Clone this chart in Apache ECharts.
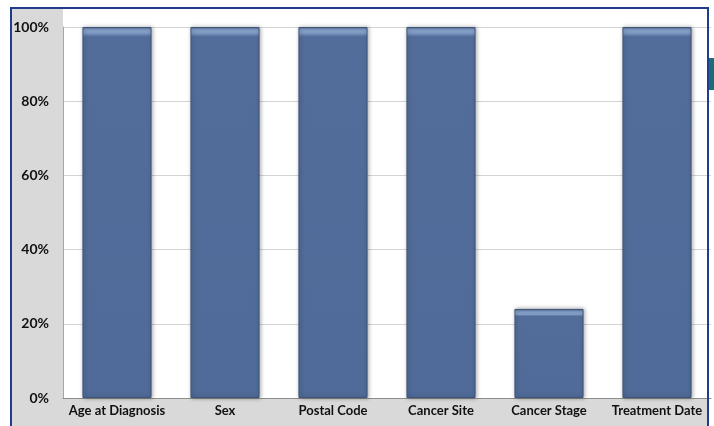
<!DOCTYPE html>
<html><head><meta charset="utf-8">
<script src="https://cdn.jsdelivr.net/npm/echarts@6/dist/echarts.min.js"></script>
<style>html,body{margin:0;padding:0;background:#fff}#c{width:714px;height:426px}</style>
</head><body><div id="c"></div>
<script>
const categories = ['Age at Diagnosis','Sex','Postal Code','Cancer Site','Cancer Stage','Treatment Date'];
const values = [100, 100, 100, 100, 24, 100];
const yTicks = [0, 20, 40, 60, 80, 100];

const chart = echarts.init(document.getElementById('c'));
const plotH = 371; // px for 100%
const data = values.map(v => {
  const h = v / 100 * plotH;
  const a = 3 / h, b = 6 / h;
  return {
    value: v,
    itemStyle: {
      color: new echarts.graphic.LinearGradient(0, 0, 0, 1, [
        {offset: 0, color: '#506a96'},
        {offset: a, color: '#86a1c9'},
        {offset: b, color: '#7f9ac3'},
        {offset: Math.min(b + 0.01, 1), color: '#536d9b'},
        {offset: 1, color: '#506b99'}
      ])
    }
  };
});
const font = 'Lato, "Open Sans", sans-serif';
chart.setOption({
  animation: false,
  graphic: [
    {type: 'rect', z: -10, shape: {x: 12, y: 9, width: 696, height: 420}, style: {fill: '#d9d9d9'}},
    {type: 'rect', z: -9, shape: {x: 63, y: 9, width: 645, height: 389}, style: {fill: '#ffffff'}},
    {type: 'rect', z: 100, shape: {x: 11, y: 8, width: 697, height: 430}, style: {fill: null, stroke: '#1f3d8c', lineWidth: 2}},
    {type: 'rect', z: 100, shape: {x: 709, y: 58, width: 5, height: 32}, style: {fill: '#1d6b78'}}
  ],
  grid: {left: 63, right: 3, top: 27, bottom: 28},
  xAxis: {
    type: 'category', data: categories,
    axisTick: {show: false},
    axisLine: {lineStyle: {color: '#8c8c8c', width: 1}},
    axisLabel: {fontFamily: font, fontWeight: 'bold', fontSize: 13, color: '#111', margin: 6, interval: 0}
  },
  yAxis: {
    type: 'value', min: 0, max: 100, interval: 20,
    axisLine: {show: true, lineStyle: {color: '#a6a6a6'}},
    axisTick: {show: false},
    splitLine: {lineStyle: {color: '#d4d4d4', width: 1}},
    axisLabel: {fontFamily: font, fontWeight: 'bold', fontSize: 14, color: '#111', margin: 14,
      formatter: v => yTicks.includes(v) ? v + '%' : ''}
  },
  series: [{
    type: 'bar', data: data, barWidth: '64%',
    itemStyle: {borderColor: '#3e5479', borderWidth: 1, shadowBlur: 4, shadowColor: 'rgba(0,0,0,0.35)', shadowOffsetX: 1}
  }]
});
</script></body></html>
